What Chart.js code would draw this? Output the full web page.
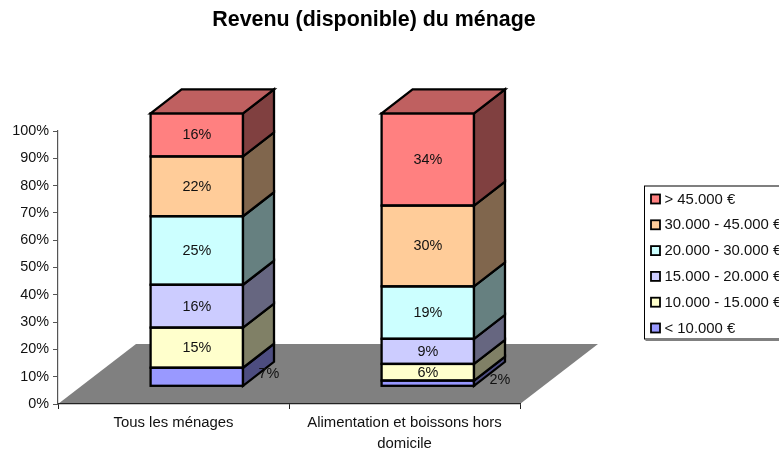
<!DOCTYPE html>
<html>
<head>
<meta charset="utf-8">
<style>html,body{margin:0;padding:0;background:#fff}canvas{display:block}</style>
<script src="https://cdn.jsdelivr.net/npm/chart.js@4"></script>
</head>
<body>
<canvas id="c" width="779" height="452"></canvas>
<script>
const titleText = "Revenu (disponible) du ménage";
const categories = ["Tous les ménages", ["Alimentation et boissons hors", "domicile"]];
const seriesNames = ["< 10.000 €", "10.000 - 15.000 €", "15.000 - 20.000 €", "20.000 - 30.000 €", "30.000 - 45.000 €", "> 45.000 €"];
const under10 = [6.8, 2.1];
const from10to15 = [14.7, 6.1];
const from15to20 = [15.7, 9.2];
const from20to30 = [25.1, 19.2];
const from30to45 = [21.9, 29.6];
const over45 = [15.8, 33.8];
const seriesValues = [under10, from10to15, from15to20, from20to30, from30to45, over45];
const seriesColors = ["#9999FF", "#FFFFCC", "#CCCCFF", "#CCFFFF", "#FFCC99", "#FF8080"];

const FONT = '"Liberation Sans", Arial, sans-serif';
const FS = 14.4;
const FS_WIDE = 14.9;
const floorDepth = {x: 78, y: -60};
const barOffset = {x: 23.3, y: -17.7};
const barDepth = {x: 31, y: -24};

function shade(hex, f) {
  const n = parseInt(hex.slice(1), 16);
  return `rgb(${Math.round((n >> 16 & 255) * f)},${Math.round((n >> 8 & 255) * f)},${Math.round((n & 255) * f)})`;
}
function poly(ctx, pts, fill, stroke, lw) {
  ctx.beginPath();
  pts.forEach((p, i) => i ? ctx.lineTo(p[0], p[1]) : ctx.moveTo(p[0], p[1]));
  ctx.closePath();
  if (fill) { ctx.fillStyle = fill; ctx.fill(); }
  if (stroke) { ctx.strokeStyle = stroke; ctx.lineWidth = lw; ctx.lineJoin = 'miter'; ctx.stroke(); }
}

const scene3d = {
  id: 'scene3d',
  beforeDraw(chart) {
    const {ctx, chartArea: a} = chart;
    ctx.save();
    poly(ctx, [[a.left, a.bottom], [a.left + floorDepth.x, a.bottom + floorDepth.y],
      [a.right + floorDepth.x, a.bottom + floorDepth.y], [a.right, a.bottom]], '#808080');
    ctx.fillStyle = '#000';
    ctx.font = 'bold 21.4px ' + FONT;
    ctx.textAlign = 'center';
    ctx.textBaseline = 'middle';
    ctx.fillText(titleText, 374, 20.5);
    ctx.restore();
  },
  beforeDatasetsDraw(chart) {
    chart.ctx.save();
    chart.ctx.translate(barOffset.x, barOffset.y);
  },
  afterDatasetsDraw(chart) {
    const ctx = chart.ctx;
    const d = barDepth, LW = 2.3;
    chart.data.datasets.forEach((ds, i) => {
      chart.getDatasetMeta(i).data.forEach((b, j) => {
        const l = b.x - b.width / 2, r = b.x + b.width / 2, t = b.y, bt = b.base;
        ctx.strokeStyle = '#000';
        ctx.lineWidth = LW;
        ctx.strokeRect(l, t, r - l, bt - t);
        poly(ctx, [[r, bt], [r + d.x, bt + d.y], [r + d.x, t + d.y], [r, t]], shade(seriesColors[i], .5), '#000', LW);
        if (i === chart.data.datasets.length - 1) {
          poly(ctx, [[l, t], [l + d.x, t + d.y], [r + d.x, t + d.y], [r, t]], shade(seriesColors[i], .75), '#000', LW);
        }
      });
    });
    ctx.fillStyle = '#111';
    ctx.font = FS + 'px ' + FONT;
    ctx.textAlign = 'center';
    ctx.textBaseline = 'middle';
    chart.data.datasets.forEach((ds, i) => {
      chart.getDatasetMeta(i).data.forEach((b, j) => {
        const text = Math.round(ds.data[j]) + '%';
        if (i === 0) ctx.fillText(text, b.x + b.width / 2 + 26, (b.y + b.base) / 2 - 3);
        else ctx.fillText(text, b.x, (b.y + b.base) / 2 + 0.5);
      });
    });
    ctx.restore();
  },
  afterDraw(chart) {
    const ctx = chart.ctx;
    const boxX = 644.5, boxY = 186, boxB = 339;
    ctx.save();
    ctx.fillStyle = '#fff';
    ctx.fillRect(boxX, boxY, 140, boxB - boxY);
    ctx.strokeStyle = '#000';
    ctx.lineWidth = 1;
    ctx.strokeRect(boxX, boxY, 140, boxB - boxY);
    ctx.fillStyle = '#808080';
    ctx.fillRect(boxX + 1, boxB + 0.5, 140, 1.5);
    ctx.font = FS_WIDE + 'px ' + FONT;
    ctx.textAlign = 'left';
    ctx.textBaseline = 'middle';
    const n = seriesNames.length;
    for (let k = 0; k < n; k++) {
      const i = n - 1 - k;
      const y = 199 + k * 25.8;
      ctx.fillStyle = seriesColors[i];
      ctx.fillRect(651, y - 4.5, 9, 9);
      ctx.strokeStyle = '#000';
      ctx.lineWidth = 1.8;
      ctx.strokeRect(651, y - 4.5, 9, 9);
      ctx.fillStyle = '#111';
      ctx.fillText(seriesNames[i], 664.5, y + 0.5);
    }
    ctx.restore();
  }
};

new Chart(document.getElementById('c'), {
  type: 'bar',
  data: {
    labels: categories,
    datasets: seriesNames.map((name, i) => ({
      label: name,
      data: seriesValues[i],
      backgroundColor: seriesColors[i],
      borderWidth: 0,
      clip: false,
      categoryPercentage: 0.4,
      barPercentage: 1
    }))
  },
  options: {
    responsive: false,
    animation: false,
    layout: {padding: {top: 131, right: 259, bottom: 0, left: 0}},
    plugins: {legend: {display: false}, title: {display: false}, tooltip: {enabled: false}},
    scales: {
      x: {
        stacked: true,
        afterFit(s) { s.height = 48; },
        border: {color: '#222', width: 1.2},
        grid: {drawOnChartArea: false, tickLength: 5, color: '#222'},
        ticks: {color: '#111', font: {family: FONT, size: FS_WIDE, lineHeight: 1.39}, maxRotation: 0, autoSkip: false, padding: 4}
      },
      y: {
        stacked: true,
        min: 0,
        max: 100,
        afterFit(s) { s.width = 58; },
        border: {color: '#555', width: 1.2},
        grid: {drawOnChartArea: false, tickLength: 5, color: '#555'},
        ticks: {stepSize: 10, color: '#111', font: {family: FONT, size: FS}, padding: 4, callback: v => v + '%'}
      }
    }
  },
  plugins: [scene3d]
});
</script>
</body>
</html>
